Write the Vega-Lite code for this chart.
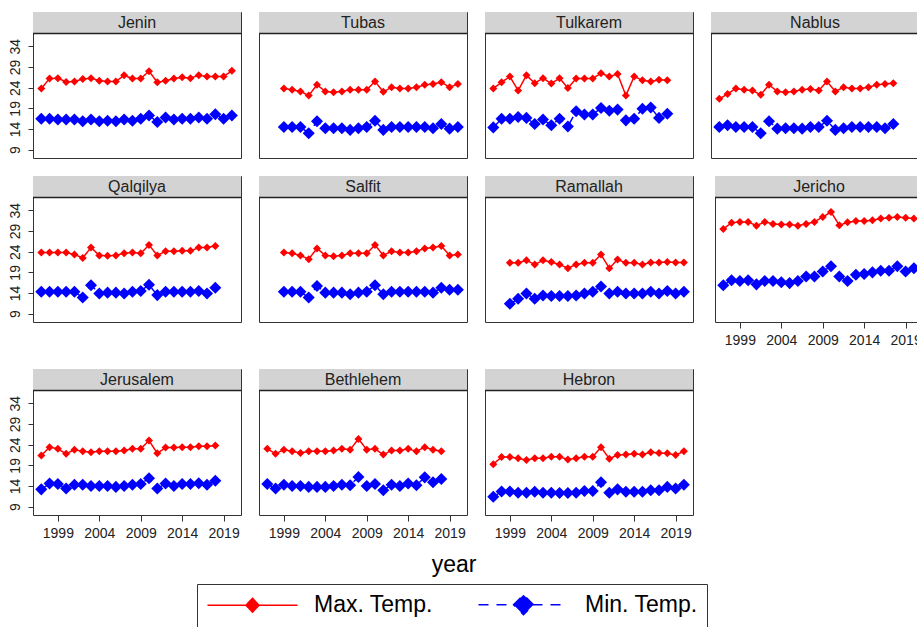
{
  "$schema": "https://vega.github.io/schema/vega-lite/v6.json",
  "padding": {"left": 8, "top": 11, "right": 0, "bottom": 0},
  "background": "white",
  "title": {"text": "year", "orient": "bottom", "anchor": "middle", "offset": -74, "dx": -12, "fontSize": 23, "font": "Liberation Sans", "fontWeight": "normal", "color": "#000"},
  "data": {"values": [
    {"site":"Jenin","year":1997,"max":23.8,"min":16.5},{"site":"Jenin","year":1998,"max":26.2,"min":16.5},{"site":"Jenin","year":1999,"max":26.3,"min":16.3},{"site":"Jenin","year":2000,"max":25.4,"min":16.3},{"site":"Jenin","year":2001,"max":25.5,"min":16.3},{"site":"Jenin","year":2002,"max":26.1,"min":15.9},{"site":"Jenin","year":2003,"max":26.3,"min":16.3},{"site":"Jenin","year":2004,"max":25.7,"min":15.9},{"site":"Jenin","year":2005,"max":25.5,"min":16.0},{"site":"Jenin","year":2006,"max":25.5,"min":15.9},{"site":"Jenin","year":2007,"max":27.0,"min":16.3},{"site":"Jenin","year":2008,"max":26.2,"min":16.0},{"site":"Jenin","year":2009,"max":26.2,"min":16.5},{"site":"Jenin","year":2010,"max":28.0,"min":17.3},{"site":"Jenin","year":2011,"max":25.3,"min":15.7},{"site":"Jenin","year":2012,"max":25.7,"min":16.8},{"site":"Jenin","year":2013,"max":26.2,"min":16.3},{"site":"Jenin","year":2014,"max":26.5,"min":16.5},{"site":"Jenin","year":2015,"max":26.3,"min":16.5},{"site":"Jenin","year":2016,"max":27.0,"min":16.8},{"site":"Jenin","year":2017,"max":26.7,"min":16.5},{"site":"Jenin","year":2018,"max":26.7,"min":17.6},{"site":"Jenin","year":2019,"max":26.7,"min":16.5},{"site":"Jenin","year":2020,"max":28.1,"min":17.3},
    {"site":"Tubas","year":1999,"max":23.8,"min":14.5},{"site":"Tubas","year":2000,"max":23.5,"min":14.5},{"site":"Tubas","year":2001,"max":23.1,"min":14.5},{"site":"Tubas","year":2002,"max":22.1,"min":13.0},{"site":"Tubas","year":2003,"max":24.7,"min":15.9},{"site":"Tubas","year":2004,"max":23.1,"min":14.2},{"site":"Tubas","year":2005,"max":22.9,"min":14.2},{"site":"Tubas","year":2006,"max":23.1,"min":14.2},{"site":"Tubas","year":2007,"max":23.5,"min":13.8},{"site":"Tubas","year":2008,"max":23.5,"min":14.2},{"site":"Tubas","year":2009,"max":23.5,"min":14.5},{"site":"Tubas","year":2010,"max":25.5,"min":16.0},{"site":"Tubas","year":2011,"max":23.0,"min":13.8},{"site":"Tubas","year":2012,"max":24.1,"min":14.5},{"site":"Tubas","year":2013,"max":23.8,"min":14.5},{"site":"Tubas","year":2014,"max":23.8,"min":14.5},{"site":"Tubas","year":2015,"max":24.1,"min":14.5},{"site":"Tubas","year":2016,"max":24.7,"min":14.5},{"site":"Tubas","year":2017,"max":24.9,"min":14.2},{"site":"Tubas","year":2018,"max":25.3,"min":15.2},{"site":"Tubas","year":2019,"max":24.1,"min":14.1},{"site":"Tubas","year":2020,"max":24.9,"min":14.5},
    {"site":"Tulkarem","year":1997,"max":23.8,"min":14.4},{"site":"Tulkarem","year":1998,"max":25.3,"min":16.5},{"site":"Tulkarem","year":1999,"max":26.7,"min":16.5},{"site":"Tulkarem","year":2000,"max":23.3,"min":16.9},{"site":"Tulkarem","year":2001,"max":27.0,"min":16.7},{"site":"Tulkarem","year":2002,"max":25.1,"min":15.2},{"site":"Tulkarem","year":2003,"max":26.3,"min":16.3},{"site":"Tulkarem","year":2004,"max":25.0,"min":14.9},{"site":"Tulkarem","year":2005,"max":26.3,"min":16.5},{"site":"Tulkarem","year":2006,"max":23.9,"min":14.6},{"site":"Tulkarem","year":2007,"max":26.2,"min":18.3},{"site":"Tulkarem","year":2008,"max":26.2,"min":17.5},{"site":"Tulkarem","year":2009,"max":26.2,"min":17.5},{"site":"Tulkarem","year":2010,"max":27.5,"min":19.1},{"site":"Tulkarem","year":2011,"max":26.7,"min":18.4},{"site":"Tulkarem","year":2012,"max":27.3,"min":18.7},{"site":"Tulkarem","year":2013,"max":22.1,"min":16.1},{"site":"Tulkarem","year":2014,"max":26.7,"min":16.5},{"site":"Tulkarem","year":2015,"max":25.8,"min":18.9},{"site":"Tulkarem","year":2016,"max":25.5,"min":19.2},{"site":"Tulkarem","year":2017,"max":25.9,"min":16.7},{"site":"Tulkarem","year":2018,"max":25.8,"min":17.7},
    {"site":"Nablus","year":1997,"max":21.3,"min":14.5},{"site":"Nablus","year":1998,"max":22.5,"min":14.9},{"site":"Nablus","year":1999,"max":23.8,"min":14.5},{"site":"Nablus","year":2000,"max":23.5,"min":14.5},{"site":"Nablus","year":2001,"max":23.3,"min":14.5},{"site":"Nablus","year":2002,"max":22.3,"min":13.0},{"site":"Nablus","year":2003,"max":24.7,"min":15.9},{"site":"Nablus","year":2004,"max":23.1,"min":14.1},{"site":"Nablus","year":2005,"max":22.9,"min":14.2},{"site":"Nablus","year":2006,"max":23.1,"min":14.2},{"site":"Nablus","year":2007,"max":23.5,"min":14.1},{"site":"Nablus","year":2008,"max":23.7,"min":14.5},{"site":"Nablus","year":2009,"max":23.3,"min":14.5},{"site":"Nablus","year":2010,"max":25.5,"min":16.0},{"site":"Nablus","year":2011,"max":23.1,"min":13.8},{"site":"Nablus","year":2012,"max":24.1,"min":14.2},{"site":"Nablus","year":2013,"max":23.8,"min":14.5},{"site":"Nablus","year":2014,"max":23.8,"min":14.5},{"site":"Nablus","year":2015,"max":24.1,"min":14.5},{"site":"Nablus","year":2016,"max":24.7,"min":14.5},{"site":"Nablus","year":2017,"max":24.9,"min":14.2},{"site":"Nablus","year":2018,"max":25.1,"min":15.2},
    {"site":"Qalqilya","year":1997,"max":23.8,"min":14.3},{"site":"Qalqilya","year":1998,"max":23.8,"min":14.3},{"site":"Qalqilya","year":1999,"max":23.8,"min":14.3},{"site":"Qalqilya","year":2000,"max":23.8,"min":14.3},{"site":"Qalqilya","year":2001,"max":23.3,"min":14.3},{"site":"Qalqilya","year":2002,"max":22.5,"min":12.9},{"site":"Qalqilya","year":2003,"max":25.0,"min":15.9},{"site":"Qalqilya","year":2004,"max":23.1,"min":13.9},{"site":"Qalqilya","year":2005,"max":23.0,"min":14.1},{"site":"Qalqilya","year":2006,"max":23.1,"min":14.1},{"site":"Qalqilya","year":2007,"max":23.6,"min":13.9},{"site":"Qalqilya","year":2008,"max":23.8,"min":14.3},{"site":"Qalqilya","year":2009,"max":23.6,"min":14.5},{"site":"Qalqilya","year":2010,"max":25.6,"min":16.0},{"site":"Qalqilya","year":2011,"max":23.1,"min":13.5},{"site":"Qalqilya","year":2012,"max":24.1,"min":14.3},{"site":"Qalqilya","year":2013,"max":24.1,"min":14.3},{"site":"Qalqilya","year":2014,"max":24.2,"min":14.3},{"site":"Qalqilya","year":2015,"max":24.2,"min":14.3},{"site":"Qalqilya","year":2016,"max":25.0,"min":14.5},{"site":"Qalqilya","year":2017,"max":25.0,"min":13.9},{"site":"Qalqilya","year":2018,"max":25.4,"min":15.3},
    {"site":"Salfit","year":1999,"max":23.8,"min":14.3},{"site":"Salfit","year":2000,"max":23.6,"min":14.3},{"site":"Salfit","year":2001,"max":23.1,"min":14.3},{"site":"Salfit","year":2002,"max":22.2,"min":12.9},{"site":"Salfit","year":2003,"max":24.8,"min":15.7},{"site":"Salfit","year":2004,"max":23.1,"min":14.1},{"site":"Salfit","year":2005,"max":22.9,"min":14.1},{"site":"Salfit","year":2006,"max":23.1,"min":14.1},{"site":"Salfit","year":2007,"max":23.6,"min":13.7},{"site":"Salfit","year":2008,"max":23.6,"min":14.1},{"site":"Salfit","year":2009,"max":23.6,"min":14.3},{"site":"Salfit","year":2010,"max":25.6,"min":15.9},{"site":"Salfit","year":2011,"max":23.1,"min":13.7},{"site":"Salfit","year":2012,"max":24.1,"min":14.3},{"site":"Salfit","year":2013,"max":23.8,"min":14.3},{"site":"Salfit","year":2014,"max":23.8,"min":14.3},{"site":"Salfit","year":2015,"max":24.1,"min":14.3},{"site":"Salfit","year":2016,"max":24.8,"min":14.3},{"site":"Salfit","year":2017,"max":25.0,"min":14.1},{"site":"Salfit","year":2018,"max":25.4,"min":15.3},{"site":"Salfit","year":2019,"max":23.1,"min":14.8},{"site":"Salfit","year":2020,"max":23.3,"min":14.8},
    {"site":"Ramallah","year":1999,"max":21.3,"min":11.4},{"site":"Ramallah","year":2000,"max":21.3,"min":12.6},{"site":"Ramallah","year":2001,"max":21.9,"min":13.9},{"site":"Ramallah","year":2002,"max":20.9,"min":12.6},{"site":"Ramallah","year":2003,"max":21.9,"min":13.4},{"site":"Ramallah","year":2004,"max":21.5,"min":13.3},{"site":"Ramallah","year":2005,"max":20.9,"min":13.3},{"site":"Ramallah","year":2006,"max":20.0,"min":13.3},{"site":"Ramallah","year":2007,"max":20.9,"min":13.4},{"site":"Ramallah","year":2008,"max":21.3,"min":13.9},{"site":"Ramallah","year":2009,"max":21.3,"min":14.3},{"site":"Ramallah","year":2010,"max":23.3,"min":15.6},{"site":"Ramallah","year":2011,"max":20.0,"min":13.9},{"site":"Ramallah","year":2012,"max":22.1,"min":14.3},{"site":"Ramallah","year":2013,"max":21.3,"min":13.9},{"site":"Ramallah","year":2014,"max":21.3,"min":13.9},{"site":"Ramallah","year":2015,"max":20.9,"min":13.9},{"site":"Ramallah","year":2016,"max":21.4,"min":14.3},{"site":"Ramallah","year":2017,"max":21.4,"min":13.9},{"site":"Ramallah","year":2018,"max":21.5,"min":14.5},{"site":"Ramallah","year":2019,"max":21.4,"min":13.9},{"site":"Ramallah","year":2020,"max":21.4,"min":14.3},
    {"site":"Jericho","year":1997,"max":29.5,"min":15.9},{"site":"Jericho","year":1998,"max":31.0,"min":17.1},{"site":"Jericho","year":1999,"max":31.2,"min":16.9},{"site":"Jericho","year":2000,"max":31.2,"min":17.1},{"site":"Jericho","year":2001,"max":30.3,"min":16.1},{"site":"Jericho","year":2002,"max":31.2,"min":16.9},{"site":"Jericho","year":2003,"max":30.7,"min":16.9},{"site":"Jericho","year":2004,"max":30.6,"min":16.6},{"site":"Jericho","year":2005,"max":30.6,"min":16.4},{"site":"Jericho","year":2006,"max":30.3,"min":16.9},{"site":"Jericho","year":2007,"max":30.7,"min":18.0},{"site":"Jericho","year":2008,"max":31.2,"min":18.0},{"site":"Jericho","year":2009,"max":32.4,"min":19.2},{"site":"Jericho","year":2010,"max":33.6,"min":20.5},{"site":"Jericho","year":2011,"max":30.4,"min":18.0},{"site":"Jericho","year":2012,"max":31.1,"min":16.9},{"site":"Jericho","year":2013,"max":31.4,"min":18.4},{"site":"Jericho","year":2014,"max":31.4,"min":18.6},{"site":"Jericho","year":2015,"max":31.6,"min":19.0},{"site":"Jericho","year":2016,"max":32.0,"min":19.4},{"site":"Jericho","year":2017,"max":32.2,"min":19.4},{"site":"Jericho","year":2018,"max":32.4,"min":20.5},{"site":"Jericho","year":2019,"max":32.2,"min":19.2},{"site":"Jericho","year":2020,"max":32.0,"min":20.0},
    {"site":"Jerusalem","year":1997,"max":21.4,"min":13.2},{"site":"Jerusalem","year":1998,"max":23.4,"min":14.6},{"site":"Jerusalem","year":1999,"max":23.0,"min":14.5},{"site":"Jerusalem","year":2000,"max":21.8,"min":13.4},{"site":"Jerusalem","year":2001,"max":22.8,"min":14.3},{"site":"Jerusalem","year":2002,"max":22.4,"min":14.3},{"site":"Jerusalem","year":2003,"max":22.2,"min":14.0},{"site":"Jerusalem","year":2004,"max":22.4,"min":14.0},{"site":"Jerusalem","year":2005,"max":22.4,"min":14.0},{"site":"Jerusalem","year":2006,"max":22.4,"min":13.8},{"site":"Jerusalem","year":2007,"max":22.6,"min":14.0},{"site":"Jerusalem","year":2008,"max":23.0,"min":14.3},{"site":"Jerusalem","year":2009,"max":23.0,"min":14.5},{"site":"Jerusalem","year":2010,"max":25.0,"min":15.9},{"site":"Jerusalem","year":2011,"max":21.9,"min":13.4},{"site":"Jerusalem","year":2012,"max":23.3,"min":14.6},{"site":"Jerusalem","year":2013,"max":23.3,"min":14.0},{"site":"Jerusalem","year":2014,"max":23.4,"min":14.5},{"site":"Jerusalem","year":2015,"max":23.4,"min":14.5},{"site":"Jerusalem","year":2016,"max":23.6,"min":14.7},{"site":"Jerusalem","year":2017,"max":23.6,"min":14.3},{"site":"Jerusalem","year":2018,"max":23.8,"min":15.3},
    {"site":"Bethlehem","year":1997,"max":23.0,"min":14.5},{"site":"Bethlehem","year":1998,"max":21.8,"min":13.4},{"site":"Bethlehem","year":1999,"max":22.8,"min":14.3},{"site":"Bethlehem","year":2000,"max":22.4,"min":14.0},{"site":"Bethlehem","year":2001,"max":22.0,"min":14.0},{"site":"Bethlehem","year":2002,"max":22.4,"min":13.8},{"site":"Bethlehem","year":2003,"max":22.4,"min":13.8},{"site":"Bethlehem","year":2004,"max":22.4,"min":13.8},{"site":"Bethlehem","year":2005,"max":22.6,"min":14.0},{"site":"Bethlehem","year":2006,"max":23.0,"min":14.3},{"site":"Bethlehem","year":2007,"max":22.8,"min":14.2},{"site":"Bethlehem","year":2008,"max":25.4,"min":16.2},{"site":"Bethlehem","year":2009,"max":22.8,"min":14.0},{"site":"Bethlehem","year":2010,"max":23.0,"min":14.5},{"site":"Bethlehem","year":2011,"max":21.6,"min":13.0},{"site":"Bethlehem","year":2012,"max":22.6,"min":14.3},{"site":"Bethlehem","year":2013,"max":22.6,"min":14.0},{"site":"Bethlehem","year":2014,"max":23.0,"min":14.6},{"site":"Bethlehem","year":2015,"max":22.4,"min":14.2},{"site":"Bethlehem","year":2016,"max":23.4,"min":16.1},{"site":"Bethlehem","year":2017,"max":22.8,"min":14.9},{"site":"Bethlehem","year":2018,"max":22.4,"min":15.7},
    {"site":"Hebron","year":1997,"max":19.3,"min":11.4},{"site":"Hebron","year":1998,"max":21.0,"min":12.7},{"site":"Hebron","year":1999,"max":21.0,"min":12.7},{"site":"Hebron","year":2000,"max":20.7,"min":12.4},{"site":"Hebron","year":2001,"max":20.3,"min":12.4},{"site":"Hebron","year":2002,"max":20.7,"min":12.6},{"site":"Hebron","year":2003,"max":20.7,"min":12.4},{"site":"Hebron","year":2004,"max":21.1,"min":12.4},{"site":"Hebron","year":2005,"max":21.1,"min":12.3},{"site":"Hebron","year":2006,"max":20.4,"min":12.3},{"site":"Hebron","year":2007,"max":20.7,"min":12.4},{"site":"Hebron","year":2008,"max":21.1,"min":12.8},{"site":"Hebron","year":2009,"max":21.1,"min":12.8},{"site":"Hebron","year":2010,"max":23.4,"min":14.9},{"site":"Hebron","year":2011,"max":20.6,"min":12.4},{"site":"Hebron","year":2012,"max":21.5,"min":13.2},{"site":"Hebron","year":2013,"max":21.6,"min":12.6},{"site":"Hebron","year":2014,"max":21.8,"min":12.6},{"site":"Hebron","year":2015,"max":21.6,"min":12.6},{"site":"Hebron","year":2016,"max":22.2,"min":13.0},{"site":"Hebron","year":2017,"max":22.0,"min":13.0},{"site":"Hebron","year":2018,"max":21.9,"min":13.8},{"site":"Hebron","year":2019,"max":21.5,"min":13.4},{"site":"Hebron","year":2020,"max":22.4,"min":14.3}
  ]},
  "transform": [{"fold": ["max", "min"], "as": ["series", "temp"]}],
  "spacing": 16,
  "vconcat": [
    {
      "transform": [{"filter": {"field": "site", "oneOf": ["Jenin","Tubas","Tulkarem","Nablus"]}}],
      "facet": {"column": {"field": "site", "type": "nominal", "sort": ["Jenin","Tubas","Tulkarem","Nablus"], "header": {"labels": false, "title": null}}},
      "spacing": {"column": 18}, "bounds": "flush",
      "spec": {
        "width": 208, "height": 146,
        "layer": [
          {"transform": [{"aggregate": [{"op": "count", "as": "n"}], "groupby": ["site"]}],
           "layer": [
            {"mark": {"type": "rect", "fill": "#d3d3d3"}, "encoding": {"x": {"datum": 1996}, "x2": {"datum": 2021.1}, "y": {"datum": 37.1}, "y2": {"datum": 42.3}}},
            {"mark": {"type": "rule", "color": "#222", "strokeWidth": 1.3}, "encoding": {"y": {"datum": 37.1}}},
            {"mark": {"type": "text", "fontSize": 16, "color": "#222", "baseline": "middle", "align": "center"}, "encoding": {"text": {"field": "site"}, "x": {"datum": 2008.55}, "y": {"datum": 39.75}}}
          ]},
          {"encoding": {
             "x": {"field": "year", "type": "quantitative", "scale": {"domain": [1996, 2021.1], "nice": false, "zero": false}, "axis": {"title": null, "labels": false, "ticks": false, "domain": false, "values": [1999], "tickSize": 0, "labelPadding": 0, "minExtent": 0, "maxExtent": 0}},
             "y": {"field": "temp", "type": "quantitative", "scale": {"domain": [7, 42.3], "nice": false, "zero": false}, "axis": {"title": null, "values": [9, 14, 19, 24, 29, 34], "tickCount": 12, "labelAngle": 270, "labelAlign": "center", "labelBaseline": "bottom", "labelPadding": 6, "tickSize": 5, "labelOverlap": false}}},
           "layer": [
            {"mark": {"type": "line", "strokeWidth": 1.5},
             "encoding": {
               "color": {"field": "series", "type": "nominal", "scale": {"domain": ["max", "min"], "range": ["#ff0000", "#0000ff"]},
                 "legend": {"title": null, "orient": "none", "legendX": 164, "legendY": 572, "direction": "horizontal",
                   "labelExpr": "datum.value == 'max' ? 'Max. Temp.' : 'Min. Temp.'",
                   "labelFontSize": 23, "labelColor": "#000", "labelOffset": 50, "columnPadding": 42, "symbolSize": 400, "symbolOffset": 35,
                   "strokeColor": "#333", "padding": 9,
                   "encode": {"symbols": {"update": {
                     "shape": {"signal": "datum.value === 'max' ? 'M-4.5,0L4.5,0M-0.65,0L0,-0.7L0.65,0L0,0.7Z' : 'M-4.5,0L4.5,0M-1,0L0,-1L1,0L0,1Z'"},
                     "fill": {"signal": "datum.value === 'max' ? '#ff0000' : '#0000ff'"},
                     "stroke": {"signal": "datum.value === 'max' ? '#ff0000' : '#0000ff'"},
                     "strokeDash": {"signal": "datum.value === 'max' ? [1, 0] : [10, 8]"},
                     "strokeWidth": {"value": 1.5}, "size": {"value": 400}, "opacity": {"value": 1}}}}}},
               "strokeDash": {"field": "series", "type": "nominal", "scale": {"domain": ["max", "min"], "range": [[1, 0], [10, 8]]}, "legend": null}}},
            {"transform": [{"filter": "datum.series === 'max'"}], "mark": {"type": "point", "shape": "diamond", "filled": true, "size": 64, "opacity": 1, "color": "#ff0000"}},
            {"transform": [{"filter": "datum.series === 'min'"}], "mark": {"type": "point", "shape": "diamond", "filled": true, "size": 145, "opacity": 1, "color": "#0000ff"}}
          ]}
        ]
      }
    },
    {
      "spacing": 18,
      "hconcat": [
        {
          "transform": [{"filter": {"field": "site", "oneOf": ["Qalqilya","Salfit","Ramallah"]}}],
          "facet": {"column": {"field": "site", "type": "nominal", "sort": ["Qalqilya","Salfit","Ramallah"], "header": {"labels": false, "title": null}}},
          "spacing": {"column": 18}, "bounds": "flush",
          "spec": {
            "width": 208, "height": 146,
            "layer": [
              {"transform": [{"aggregate": [{"op": "count", "as": "n"}], "groupby": ["site"]}],
               "layer": [
                {"mark": {"type": "rect", "fill": "#d3d3d3"}, "encoding": {"x": {"datum": 1996}, "x2": {"datum": 2021.1}, "y": {"datum": 37.1}, "y2": {"datum": 42.3}}},
                {"mark": {"type": "rule", "color": "#222", "strokeWidth": 1.3}, "encoding": {"y": {"datum": 37.1}}},
                {"mark": {"type": "text", "fontSize": 16, "color": "#222", "baseline": "middle", "align": "center"}, "encoding": {"text": {"field": "site"}, "x": {"datum": 2008.55}, "y": {"datum": 39.75}}}
              ]},
              {"encoding": {
                 "x": {"field": "year", "type": "quantitative", "scale": {"domain": [1996, 2021.1], "nice": false, "zero": false}, "axis": {"title": null, "labels": false, "ticks": false, "domain": false, "values": [1999], "tickSize": 0, "labelPadding": 0, "minExtent": 0, "maxExtent": 0}},
                 "y": {"field": "temp", "type": "quantitative", "scale": {"domain": [7, 42.3], "nice": false, "zero": false}, "axis": {"title": null, "values": [9, 14, 19, 24, 29, 34], "tickCount": 12, "labelAngle": 270, "labelAlign": "center", "labelBaseline": "bottom", "labelPadding": 6, "tickSize": 5, "labelOverlap": false}}},
               "layer": [
                {"mark": {"type": "line", "strokeWidth": 1.5},
                 "encoding": {
                   "color": {"field": "series", "type": "nominal", "scale": {"domain": ["max", "min"], "range": ["#ff0000", "#0000ff"]}},
                   "strokeDash": {"field": "series", "type": "nominal", "scale": {"domain": ["max", "min"], "range": [[1, 0], [10, 8]]}, "legend": null}}},
                {"transform": [{"filter": "datum.series === 'max'"}], "mark": {"type": "point", "shape": "diamond", "filled": true, "size": 64, "opacity": 1, "color": "#ff0000"}},
                {"transform": [{"filter": "datum.series === 'min'"}], "mark": {"type": "point", "shape": "diamond", "filled": true, "size": 145, "opacity": 1, "color": "#0000ff"}}
              ]}
            ]
          }
        },
        {
          "transform": [{"filter": {"field": "site", "equal": "Jericho"}}],
          "width": 208, "height": 146,
          "layer": [
            {"transform": [{"aggregate": [{"op": "count", "as": "n"}], "groupby": ["site"]}],
             "layer": [
              {"mark": {"type": "rect", "fill": "#d3d3d3"}, "encoding": {"x": {"datum": 1996}, "x2": {"datum": 2021.1}, "y": {"datum": 37.1}, "y2": {"datum": 42.3}}},
              {"mark": {"type": "rule", "color": "#222", "strokeWidth": 1.3}, "encoding": {"y": {"datum": 37.1}}},
              {"mark": {"type": "text", "fontSize": 16, "color": "#222", "baseline": "middle", "align": "center"}, "encoding": {"text": {"field": "site"}, "x": {"datum": 2008.55}, "y": {"datum": 39.75}}}
            ]},
            {"encoding": {
               "x": {"field": "year", "type": "quantitative", "scale": {"domain": [1996, 2021.1], "nice": false, "zero": false}, "axis": {"title": " ", "titleFontSize": 4, "titlePadding": 0, "values": [1999, 2004, 2009, 2014, 2019], "tickCount": 12, "format": "d", "labelFlush": false, "labelOverlap": false, "labelPadding": 5}},
               "y": {"field": "temp", "type": "quantitative", "scale": {"domain": [7, 42.3], "nice": false, "zero": false}, "axis": {"title": null, "labels": false, "ticks": false, "domain": false, "values": [9], "tickSize": 0, "labelPadding": 0, "minExtent": 0, "maxExtent": 0}}},
             "layer": [
              {"mark": {"type": "line", "strokeWidth": 1.5},
               "encoding": {
                 "color": {"field": "series", "type": "nominal", "scale": {"domain": ["max", "min"], "range": ["#ff0000", "#0000ff"]}},
                 "strokeDash": {"field": "series", "type": "nominal", "scale": {"domain": ["max", "min"], "range": [[1, 0], [10, 8]]}, "legend": null}}},
              {"transform": [{"filter": "datum.series === 'max'"}], "mark": {"type": "point", "shape": "diamond", "filled": true, "size": 64, "opacity": 1, "color": "#ff0000"}},
              {"transform": [{"filter": "datum.series === 'min'"}], "mark": {"type": "point", "shape": "diamond", "filled": true, "size": 145, "opacity": 1, "color": "#0000ff"}}
            ]}
          ]
        }
      ]
    },
    {
      "transform": [{"filter": {"field": "site", "oneOf": ["Jerusalem","Bethlehem","Hebron"]}}],
      "facet": {"column": {"field": "site", "type": "nominal", "sort": ["Jerusalem","Bethlehem","Hebron"], "header": {"labels": false, "title": null}}},
      "spacing": {"column": 18}, "bounds": "flush",
      "spec": {
        "width": 208, "height": 146,
        "layer": [
          {"transform": [{"aggregate": [{"op": "count", "as": "n"}], "groupby": ["site"]}],
           "layer": [
            {"mark": {"type": "rect", "fill": "#d3d3d3"}, "encoding": {"x": {"datum": 1996}, "x2": {"datum": 2021.1}, "y": {"datum": 37.1}, "y2": {"datum": 42.3}}},
            {"mark": {"type": "rule", "color": "#222", "strokeWidth": 1.3}, "encoding": {"y": {"datum": 37.1}}},
            {"mark": {"type": "text", "fontSize": 16, "color": "#222", "baseline": "middle", "align": "center"}, "encoding": {"text": {"field": "site"}, "x": {"datum": 2008.55}, "y": {"datum": 39.75}}}
          ]},
          {"encoding": {
             "x": {"field": "year", "type": "quantitative", "scale": {"domain": [1996, 2021.1], "nice": false, "zero": false}, "axis": {"title": null, "values": [1999, 2004, 2009, 2014, 2019], "tickCount": 12, "format": "d", "labelFlush": false, "labelOverlap": false, "labelPadding": 5}},
             "y": {"field": "temp", "type": "quantitative", "scale": {"domain": [7, 42.3], "nice": false, "zero": false}, "axis": {"title": null, "values": [9, 14, 19, 24, 29, 34], "tickCount": 12, "labelAngle": 270, "labelAlign": "center", "labelBaseline": "bottom", "labelPadding": 6, "tickSize": 5, "labelOverlap": false}}},
           "layer": [
            {"mark": {"type": "line", "strokeWidth": 1.5},
             "encoding": {
               "color": {"field": "series", "type": "nominal", "scale": {"domain": ["max", "min"], "range": ["#ff0000", "#0000ff"]}},
               "strokeDash": {"field": "series", "type": "nominal", "scale": {"domain": ["max", "min"], "range": [[1, 0], [10, 8]]}, "legend": null}}},
            {"transform": [{"filter": "datum.series === 'max'"}], "mark": {"type": "point", "shape": "diamond", "filled": true, "size": 64, "opacity": 1, "color": "#ff0000"}},
            {"transform": [{"filter": "datum.series === 'min'"}], "mark": {"type": "point", "shape": "diamond", "filled": true, "size": 145, "opacity": 1, "color": "#0000ff"}}
          ]}
        ]
      }
    }
  ],
  "config": {
    "font": "Liberation Sans",
    "view": {"stroke": "#333", "strokeWidth": 1},
    "axis": {"labelFont": "Liberation Sans", "labelFontSize": 14, "labelColor": "#222", "tickColor": "#333", "tickSize": 6, "grid": false, "domain": false, "labelPadding": 3, "labelOverlap": false},
    "legend": {"labelFont": "Liberation Sans"}
  }
}
